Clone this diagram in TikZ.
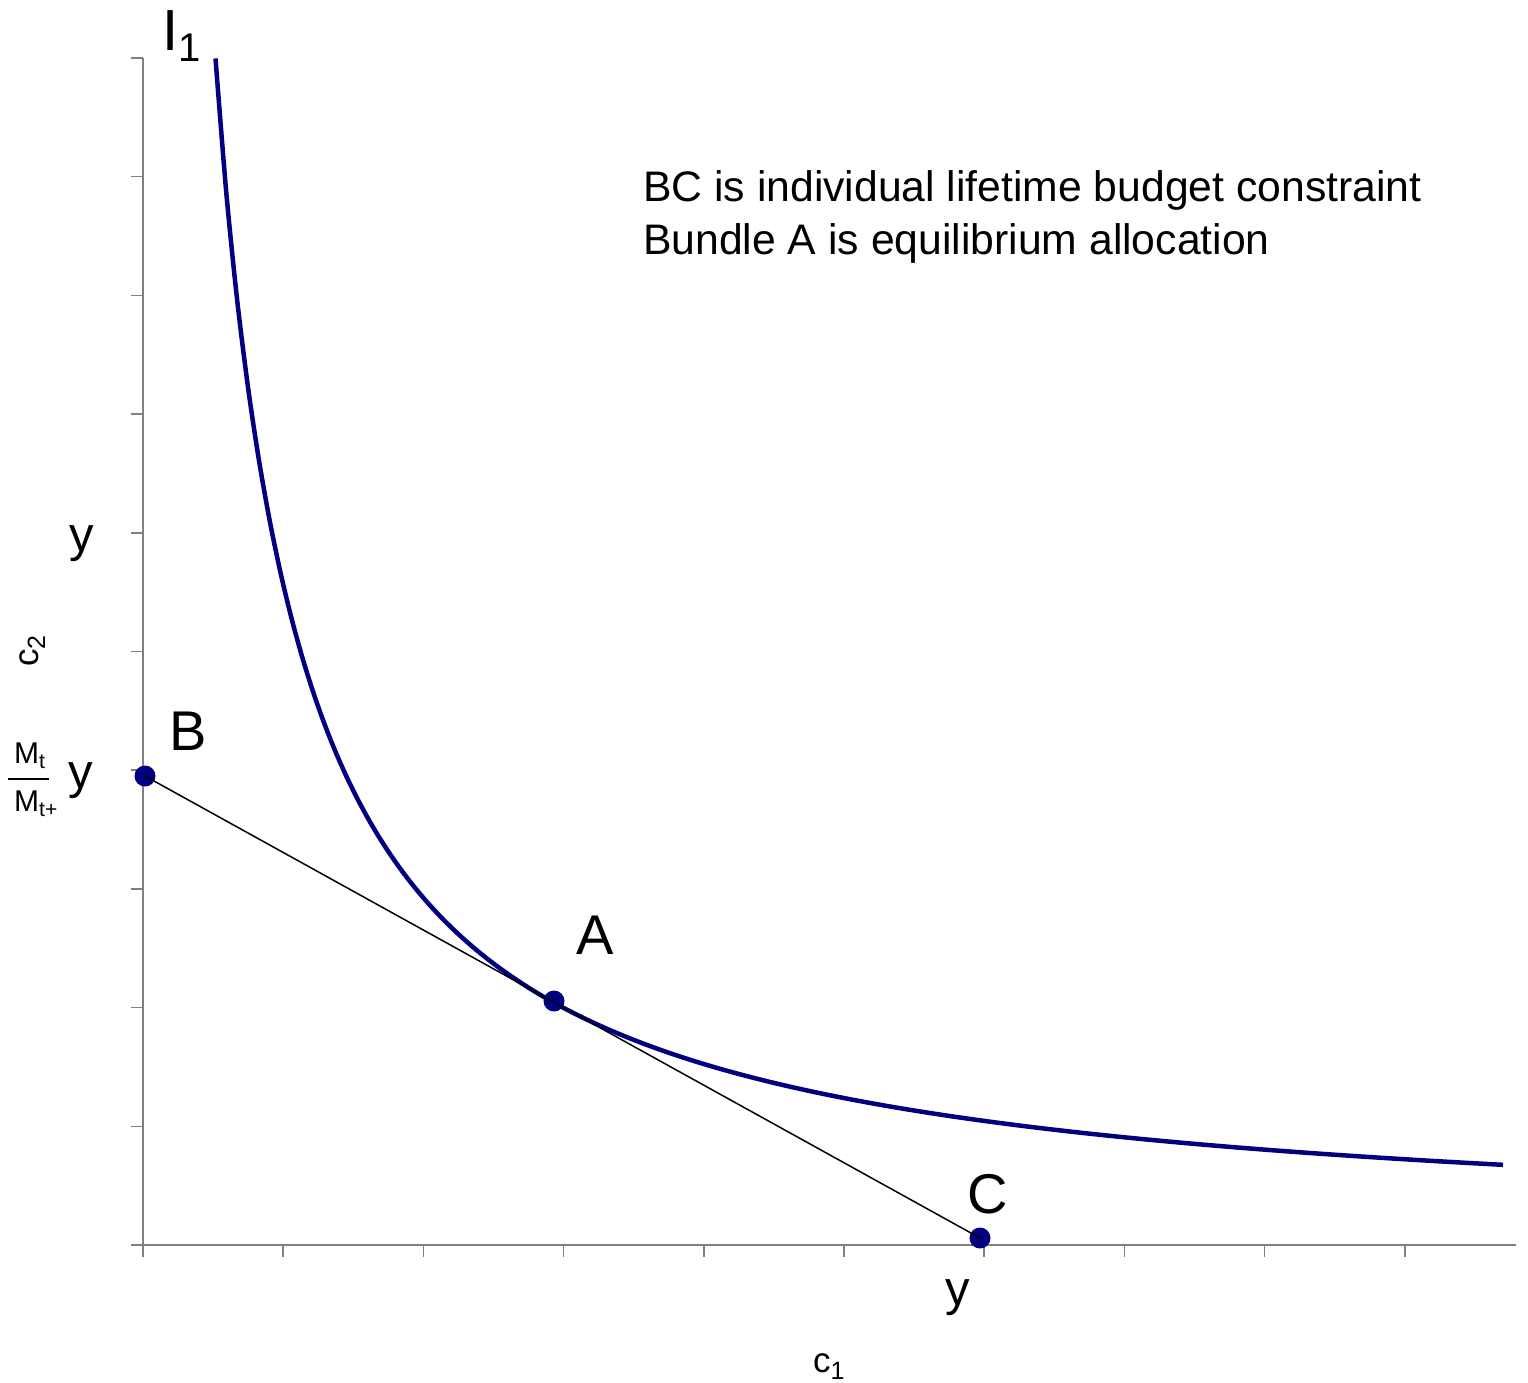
\documentclass[tikz,border=0pt]{standalone}
\usepackage{fontspec}
\setmainfont{Liberation Sans}
\definecolor{curvecol}{RGB}{0,0,128}
\definecolor{axiscol}{RGB}{128,128,128}
\newcommand{\fs}[1]{\fontsize{#1}{#1}\selectfont}
\begin{document}
\begin{tikzpicture}[x=1pt,y=-1pt,
  axisline/.style={draw=axiscol,line width=2pt},
  tickmark/.style={draw=axiscol,line width=1.5pt},
  pt/.style={circle,fill=curvecol,inner sep=0pt,minimum size=21pt},
  lbl/.style={inner sep=0pt,anchor=base west},
  icurve/.style={draw=curvecol,line width=4.5pt},
  bline/.style={draw=black,line width=1.5pt}]
\useasboundingbox (0,0) rectangle (1528,1383);
% axes
\coordinate (O) at (143,1245);
\coordinate (Ytop) at (143,58);
\coordinate (Xend) at (1516,1245);
\draw[axisline] (Ytop) -- (O) -- (Xend);
\draw[axisline] (131,1245) -- (O);
% y ticks
\foreach \i in {0,...,10} {
  \draw[tickmark] (131,{58+\i*118.7}) -- (143,{58+\i*118.7});
}
% x ticks
\foreach \i in {0,...,9} {
  \draw[tickmark] ({143+\i*140.2},1245) -- ({143+\i*140.2},1257);
}
% indifference curve
\draw[icurve] plot[smooth,domain=72.5:1360,samples=120,variable=\x]
  ({143+\x},{1245-8-990/((\x+11.5)/100)});
% points
\node[pt] (B) at (145,776) {};
\node[pt] (A) at (554,1001) {};
\node[pt] (C) at (980,1238) {};
\draw[bline] (B.center) -- (C.center);
% labels
\node[lbl] (Bl) at (169,750) {\fs{56}B};
\node[lbl] (Al) at (576,954) {\fs{56}A};
\node[lbl] (Cl) at (967,1213) {\fs{56}C};
\node[lbl] (I1) at (162,51) {\fs{58}I\raisebox{-11pt}{\fs{40}1}};
\node[lbl] (t1) at (643,202) {\fs{42.7}BC is individual lifetime budget constraint};
\node[lbl] (t2) at (643,254) {\fs{42.7}Bundle A is equilibrium allocation};
\node[lbl] (y1) at (69,551) {\fs{49}y};
\node[lbl] (y2) at (68,788) {\fs{49}y};
\node[lbl] (y3) at (945,1305) {\fs{49}y};
\node[lbl] (c1) at (813,1372) {\fs{35}c\raisebox{-7pt}{\fs{25}1}};
\node[lbl,rotate=90] (c2) at (38,667) {\fs{35}c\raisebox{-7pt}{\fs{25}2}};
% fraction
\node[lbl] (Mt) at (14,763) {\fs{30}M\raisebox{-5pt}{\fs{21}t}};
\coordinate (fl) at (8,779);
\coordinate (fr) at (49,779);
\draw[line width=1.5pt] (fl) -- (fr);
\node[lbl] (Mtp) at (14,811) {\fs{30}M\raisebox{-5pt}{\fs{21}t+}};
\end{tikzpicture}
\end{document}
